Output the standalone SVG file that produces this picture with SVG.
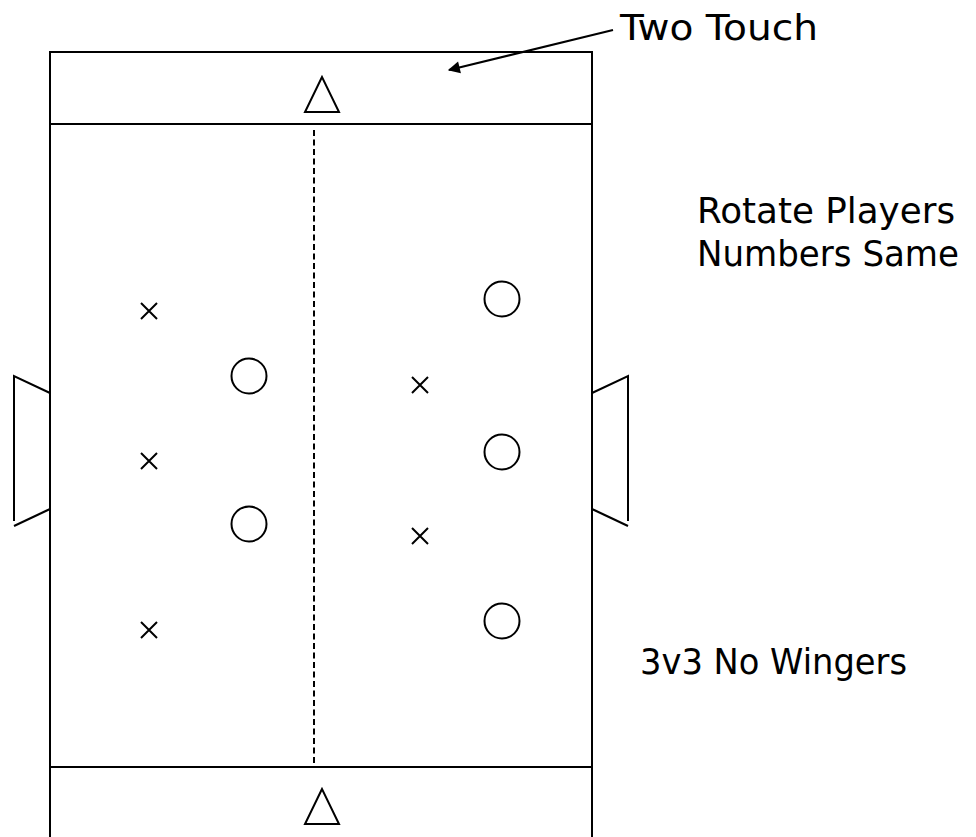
<svg xmlns="http://www.w3.org/2000/svg" width="976" height="837" viewBox="0 0 976 837">
<defs>
<style>
.ln{fill:none;stroke:#000;stroke-width:2}
.tx{font-family:"DejaVu Sans","Liberation Sans",sans-serif;font-size:36px;fill:#000}
</style>
<marker id="ah" viewBox="0 0 10 10" refX="9" refY="5" markerWidth="16" markerHeight="12" markerUnits="userSpaceOnUse" orient="auto" overflow="visible">
<path d="M0,0 L10,5 L0,10 z" fill="#000"/>
</marker>
</defs>
<rect width="976" height="837" fill="#fff"/>
<g id="field">
<rect class="ln" x="50" y="52" width="542" height="800"/>
<line class="ln" x1="50" y1="124" x2="592" y2="124"/>
<line class="ln" x1="50" y1="767" x2="592" y2="767"/>
<line class="ln" x1="314" y1="130" x2="314" y2="767" stroke-dasharray="6,3.5"/>
</g>
<g id="goal-top"><polygon class="ln" points="322,77 305,112 339,112"/></g>
<g id="goal-bottom"><polygon class="ln" points="322,789 305,824 339,824"/></g>
<g id="goal-left"><polyline class="ln" points="50,393 14,376 14,521"/><line class="ln" x1="14" y1="526" x2="50" y2="509"/></g>
<g id="goal-right"><polyline class="ln" points="592,393 628,376 628,521"/><line class="ln" x1="628" y1="526" x2="592" y2="509"/></g>
<g id="x1"><path class="ln" d="M141,303 L157,319 M157,303 L141,319"/></g>
<g id="x2"><path class="ln" d="M141,453 L157,469 M157,453 L141,469"/></g>
<g id="x3"><path class="ln" d="M141,622 L157,638 M157,622 L141,638"/></g>
<g id="x4"><path class="ln" d="M412,377 L428,393 M428,377 L412,393"/></g>
<g id="x5"><path class="ln" d="M412,528 L428,544 M428,528 L412,544"/></g>
<g id="o1"><circle class="ln" cx="249" cy="376" r="17.5"/></g>
<g id="o2"><circle class="ln" cx="249" cy="524" r="17.5"/></g>
<g id="o3"><circle class="ln" cx="502" cy="299" r="17.5"/></g>
<g id="o4"><circle class="ln" cx="502" cy="452" r="17.5"/></g>
<g id="o5"><circle class="ln" cx="502" cy="621" r="17.5"/></g>
<g id="connectors">
<line x1="613" y1="30" x2="449" y2="70" stroke="#000" stroke-width="2" marker-end="url(#ah)"/>
</g>
<g id="labels">
<text class="tx" x="620" y="40" textLength="198" lengthAdjust="spacingAndGlyphs">Two Touch</text>
<text class="tx" x="697" y="223" textLength="258" lengthAdjust="spacingAndGlyphs">Rotate Players</text>
<text class="tx" x="697" y="266" textLength="262" lengthAdjust="spacingAndGlyphs">Numbers Same</text>
<text class="tx" x="640" y="674" textLength="267" lengthAdjust="spacingAndGlyphs">3v3 No Wingers</text>
</g>
</svg>
